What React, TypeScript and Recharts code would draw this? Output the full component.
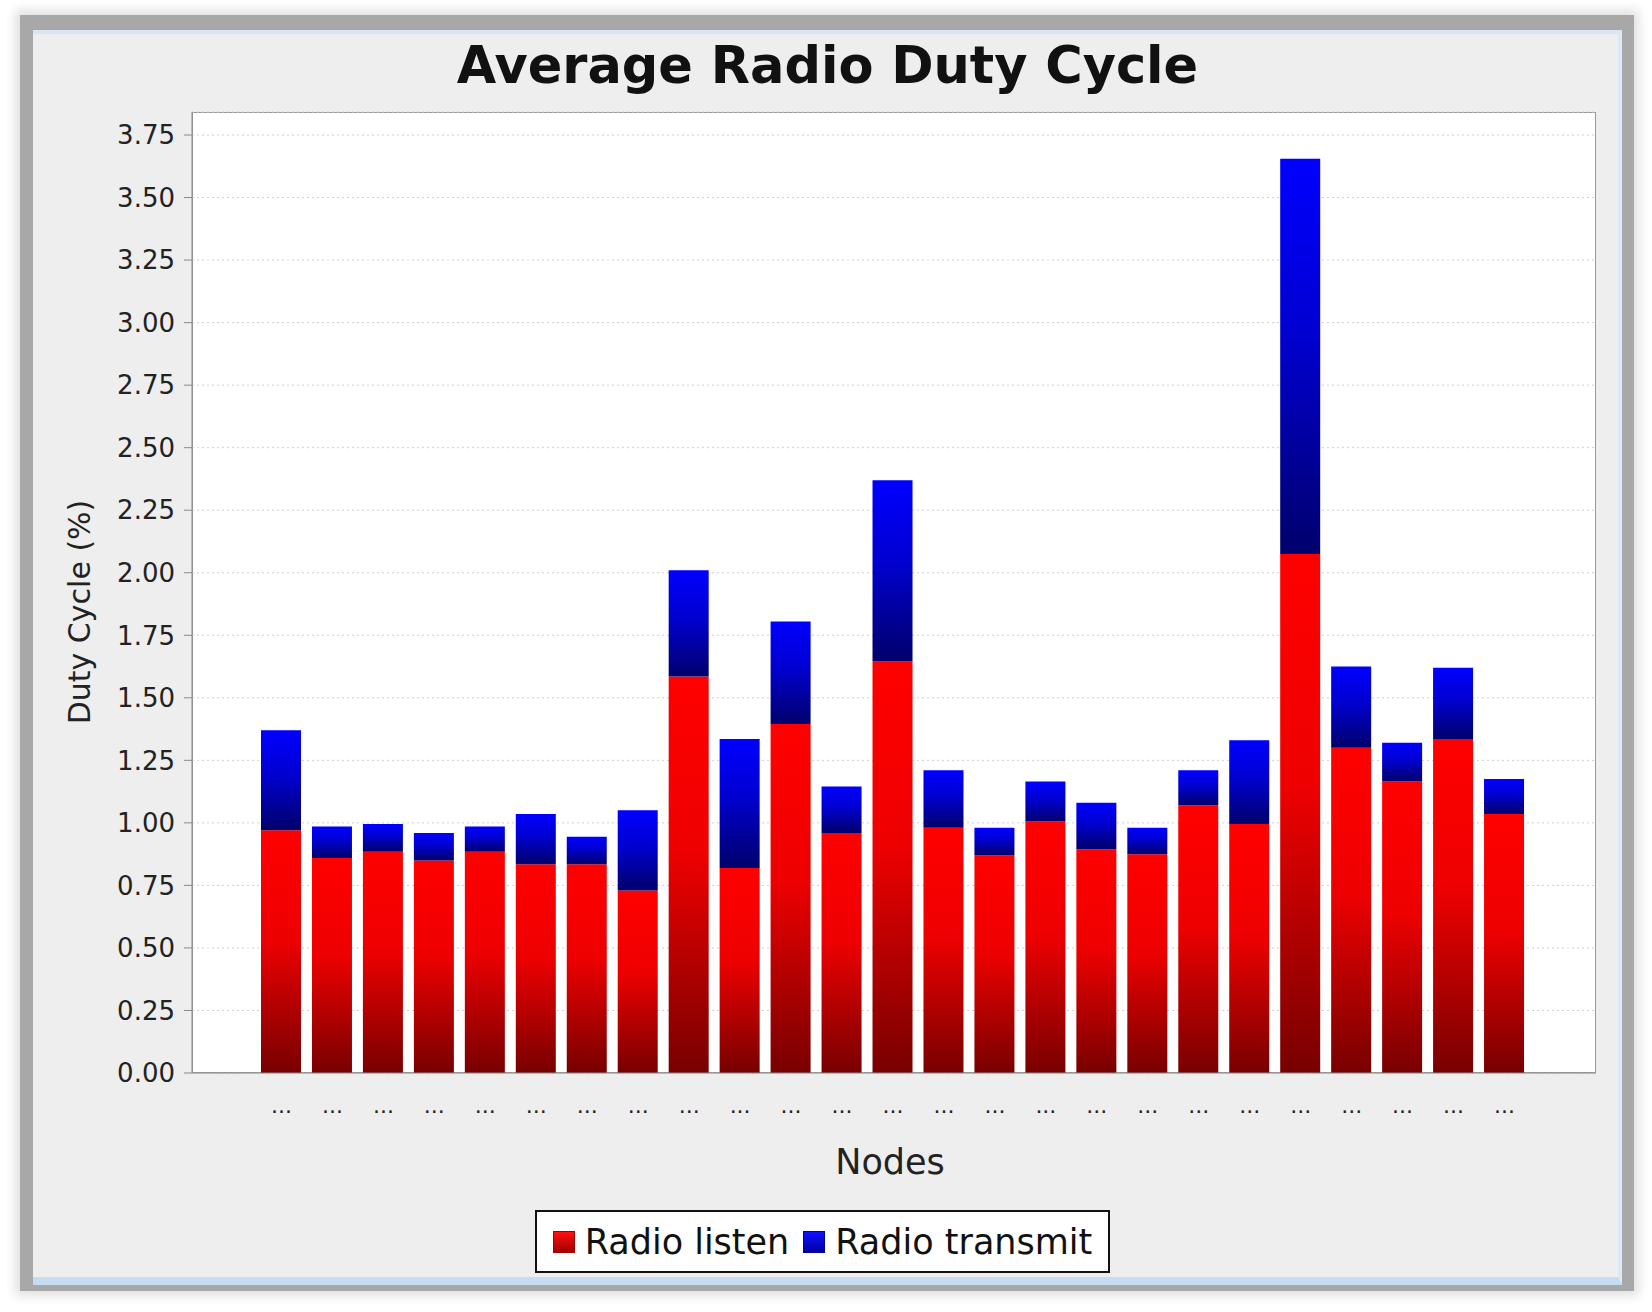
import { BarChart, Bar, XAxis, YAxis, CartesianGrid } from "recharts";

const nodeLabels = [
  "...", "...", "...", "...", "...", "...", "...", "...", "...", "...", "...", "...", "...",
  "...", "...", "...", "...", "...", "...", "...", "...", "...", "...", "...", "...",
];

const radioListen = [
  0.97, 0.86, 0.885, 0.85, 0.885, 0.835, 0.835, 0.73, 1.585, 0.82, 1.395, 0.96, 1.645,
  0.98, 0.87, 1.005, 0.895, 0.875, 1.07, 0.995, 2.075, 1.3, 1.165, 1.335, 1.035,
];

const radioTransmit = [
  0.4, 0.125, 0.11, 0.11, 0.1, 0.2, 0.11, 0.32, 0.425, 0.515, 0.41, 0.185, 0.725,
  0.23, 0.11, 0.16, 0.185, 0.105, 0.14, 0.335, 1.58, 0.325, 0.155, 0.285, 0.14,
];

const yTicks = [0, 0.25, 0.5, 0.75, 1, 1.25, 1.5, 1.75, 2, 2.25, 2.5, 2.75, 3, 3.25, 3.5, 3.75];

const data = nodeLabels.map((node, i) => ({
  node,
  listen: radioListen[i],
  transmit: radioTransmit[i],
}));

const FONT = "'DejaVu Sans', sans-serif";

// plot area in page pixels
const PLOT = { left: 192, top: 112, right: 1596, bottom: 1073 };

function LegendBox() {
  const item = (color: string, dark: string, label: string) => (
    <div style={{ display: "flex", alignItems: "center", gap: 10 }}>
      <div
        style={{
          width: 20,
          height: 20,
          background: `linear-gradient(${color}, ${dark})`,
          border: `1px solid ${dark}`,
        }}
      />
      <span>{label}</span>
    </div>
  );
  return (
    <div
      style={{
        position: "absolute",
        left: 535,
        top: 1210,
        width: 575,
        height: 63,
        boxSizing: "border-box",
        border: "2px solid #111",
        background: "#fff",
        display: "flex",
        alignItems: "center",
        justifyContent: "center",
        gap: 14,
        fontFamily: FONT,
        fontSize: 35,
        color: "#111",
      }}
    >
      {item("#ff1010", "#a00000", "Radio listen")}
      {item("#1010ff", "#0000a0", "Radio transmit")}
    </div>
  );
}

export default function App() {
  return (
    <div style={{ position: "absolute", left: 0, top: 0, width: 1652, height: 1312, background: "#fff", overflow: "hidden" }}>
      {/* window frame */}
      <div
        style={{
          position: "absolute",
          left: 20,
          top: 15,
          width: 1614,
          height: 1276,
          background: "#a8a8a8",
          boxShadow: "0 0 10px 5px rgba(0,0,0,0.12)",
        }}
      />
      <div
        style={{
          position: "absolute",
          left: 33,
          top: 30,
          width: 1589,
          height: 1255,
          boxSizing: "border-box",
          background: "#eeeeee",
          borderTop: "4px solid #d6e6f4",
          borderRight: "4px solid #dce8f3",
          borderBottom: "8px solid #c6dcf0",
        }}
      />
      {/* plot background with outline */}
      <div
        style={{
          position: "absolute",
          left: PLOT.left,
          top: PLOT.top,
          width: PLOT.right - PLOT.left,
          height: PLOT.bottom - PLOT.top,
          boxSizing: "border-box",
          background: "#fff",
          border: "1px solid #999",
        }}
      />
      <div
        style={{
          position: "absolute",
          left: 33,
          width: 1589,
          top: 36,
          textAlign: "center",
          fontFamily: FONT,
          fontWeight: "bold",
          fontSize: 51,
          color: "#111",
        }}
      >
        Average Radio Duty Cycle
      </div>
      <div style={{ position: "absolute", left: 0, top: 0 }}>
        <BarChart
          width={1652}
          height={1312}
          data={data}
          margin={{ top: PLOT.top, right: 1652 - PLOT.right, bottom: 1312 - PLOT.bottom - 60, left: PLOT.left - 100 }}
          style={{ fontFamily: FONT }}
        >
          <defs>
            <linearGradient id="redGrad" x1="0" y1="0" x2="0" y2="1">
              <stop offset="0%" stopColor="#ff0000" />
              <stop offset="45%" stopColor="#ee0000" />
              <stop offset="100%" stopColor="#780000" />
            </linearGradient>
            <linearGradient id="blueGrad" x1="0" y1="0" x2="0" y2="1">
              <stop offset="0%" stopColor="#0000ff" />
              <stop offset="45%" stopColor="#0000d0" />
              <stop offset="100%" stopColor="#00006c" />
            </linearGradient>
          </defs>
          <CartesianGrid vertical={false} stroke="#cfcfcf" strokeDasharray="2 3" />
          <XAxis
            dataKey="node"
            height={60}
            padding={{ left: 64, right: 66 }}
            tickLine={false}
            tickMargin={18}
            axisLine={{ stroke: "#888" }}
            tick={{ fill: "#222", fontSize: 22 }}
            interval={0}
          />
          <YAxis
            width={100}
            domain={[0, 3.842]}
            ticks={yTicks}
            tickFormatter={(v: number) => v.toFixed(2)}
            tickSize={8}
            tickMargin={9}
            axisLine={{ stroke: "#888" }}
            tickLine={{ stroke: "#888" }}
            tick={{ fill: "#222", fontSize: 26 }}
            allowDataOverflow
          />
          <Bar dataKey="listen" stackId="a" fill="url(#redGrad)" barSize={40} isAnimationActive={false} />
          <Bar dataKey="transmit" stackId="a" fill="url(#blueGrad)" barSize={40} isAnimationActive={false} />
        </BarChart>
      </div>
      {/* axis titles */}
      <div
        style={{
          position: "absolute",
          left: 79,
          top: 612,
          transform: "translate(-50%, -50%) rotate(-90deg)",
          whiteSpace: "nowrap",
          fontFamily: FONT,
          fontSize: 30,
          color: "#222",
        }}
      >
        Duty Cycle (%)
      </div>
      <div
        style={{
          position: "absolute",
          left: 890,
          top: 1162,
          transform: "translate(-50%, -50%)",
          whiteSpace: "nowrap",
          fontFamily: FONT,
          fontSize: 35,
          color: "#222",
        }}
      >
        Nodes
      </div>
      <LegendBox />
    </div>
  );
}
